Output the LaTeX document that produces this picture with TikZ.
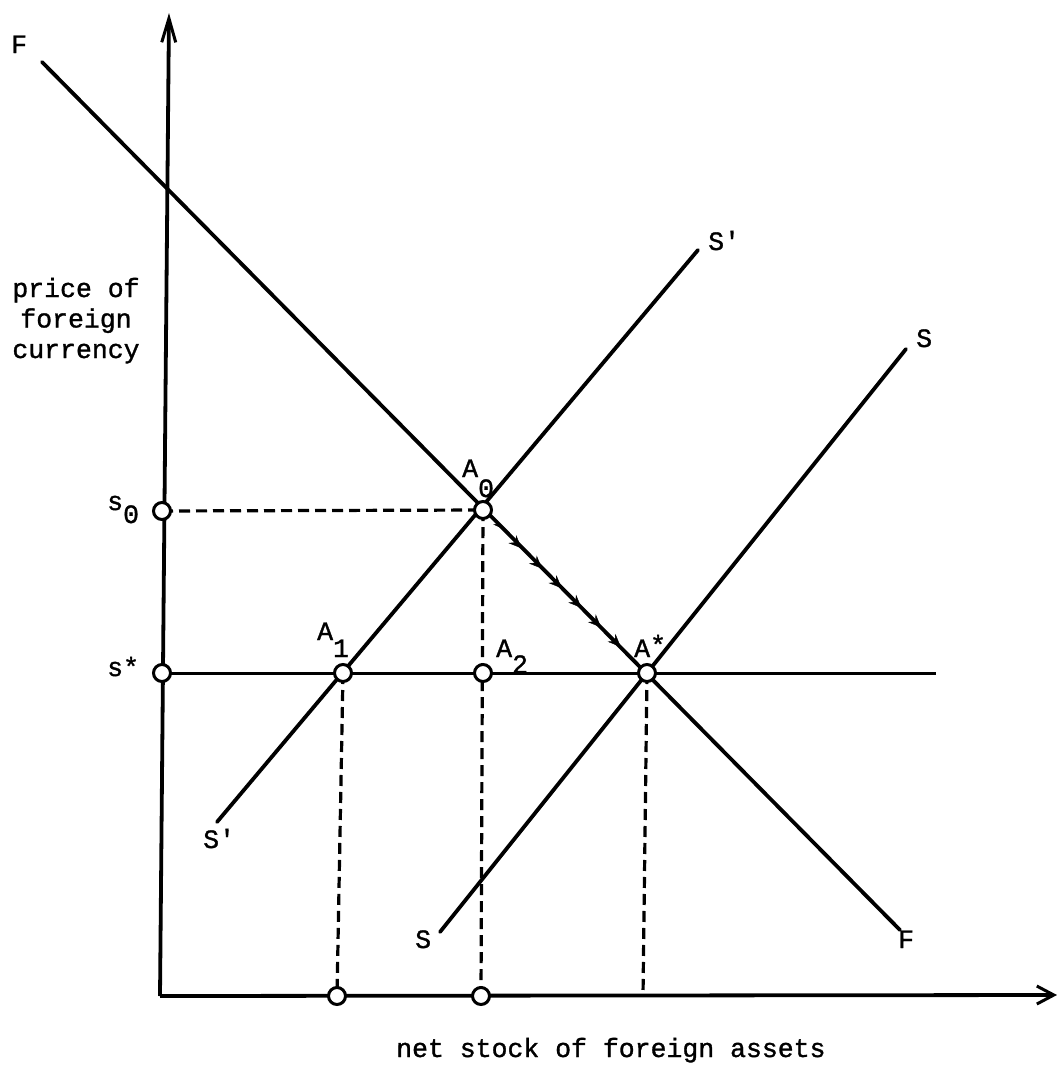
\documentclass[tikz,border=0pt]{standalone}
\usepackage{fontspec}
\newfontfamily\tw[FakeBold=1.2]{Liberation Mono}
\usetikzlibrary{arrows.meta,decorations.markings}
\begin{document}
\begin{tikzpicture}[x=1pt,y=-1pt,
  lab/.style={font=\fontsize{26.5}{30.5}\selectfont\tw, inner sep=0pt, anchor=base west},
  curve/.style={line width=3.8pt, line cap=round},
  axis/.style={line width=3.8pt},
  dsh/.style={line width=3.2pt, dash pattern=on 11pt off 6pt},
  pt/.style={circle, draw, fill=white, line width=3pt, minimum size=17pt, inner sep=0pt},
  headpath/.style={decoration={markings,
      mark=at position 0.11 with {\arrow{Stealth[length=8pt,width=6pt,inset=2.5pt]}},
      mark=at position 0.235 with {\arrow{Stealth[length=13pt,width=11pt,inset=4.5pt]}},
      mark=at position 0.36 with {\arrow{Stealth[length=13pt,width=11pt,inset=4.5pt]}},
      mark=at position 0.48 with {\arrow{Stealth[length=13pt,width=11pt,inset=4.5pt]}},
      mark=at position 0.60 with {\arrow{Stealth[length=13pt,width=11pt,inset=4.5pt]}},
      mark=at position 0.72 with {\arrow{Stealth[length=13pt,width=11pt,inset=4.5pt]}},
      mark=at position 0.84 with {\arrow{Stealth[length=13pt,width=11pt,inset=4.5pt]}}},
    postaction=decorate}]
\useasboundingbox (0,0) rectangle (1057,1068);

% positions
\coordinate (O) at (160,996);
\coordinate (Ytop) at (169,13);
\coordinate (Xend) at (1057,995);
\coordinate (F1) at (42,62);
\coordinate (F2) at (900,930);
\coordinate (Sp1) at (217,822);
\coordinate (Sp2) at (698,250);
\coordinate (S1) at (440,932);
\coordinate (S2) at (906,349);
\coordinate (Hend) at (936,673);
\coordinate (ps0) at (162,511);
\coordinate (pss) at (162,673);
\coordinate (pA1) at (343,673);
\coordinate (pA0) at (483,510);
\coordinate (pA2) at (483,673);
\coordinate (pAs) at (647,673);
\coordinate (pB1) at (337,996);
\coordinate (pB2) at (481,996);
\coordinate (pB3) at (643,996);

% axes
\draw[axis, -{Straight Barb[length=24pt,width=14pt,line width=3pt]}] (O) -- (Ytop);
\draw[axis, -{Straight Barb[length=17pt,width=18pt,line width=3pt]}] (O) -- (Xend);

% curves
\draw[curve] (F1) -- (F2);
\draw[curve] (Sp1) -- (Sp2);
\draw[curve] (S1) -- (S2);
\draw[line width=3pt] (pss) -- (Hend);

% dashed guides
\draw[dsh] (ps0) -- (pA0);
\draw[dsh] (pA0) -- (pB2);
\draw[dsh] (pA1) -- (pB1);
\draw[dsh] (pAs) -- (pB3);

% adjustment path
\path[headpath] (pA0) -- (pAs);

% points
\node[pt] (s0) at (ps0) {};
\node[pt] (ss) at (pss) {};
\node[pt] (A1) at (pA1) {};
\node[pt] (A0) at (pA0) {};
\node[pt] (A2) at (pA2) {};
\node[pt] (As) at (pAs) {};
\node[pt] (B1) at (pB1) {};
\node[pt] (B2) at (pB2) {};

% labels
\node[lab] (lF1) at (11,53) {F};
\node[lab] (lF2) at (898,948) {F};
\node[lab] (lS1) at (415,948) {S};
\node[lab] (lSp1) at (203,848) {S'};
\node[lab] (lS2) at (916,347) {S};
\node[lab] (lSp2) at (708,250) {S'};
\node[lab] (ls0) at (107,510) {s\raisebox{-13pt}{0}};
\node[lab] (lss) at (107,676) {s*};
\node[lab] (lA0) at (462,477) {A\raisebox{-20pt}{0}};
\node[lab] (lA1) at (317,640) {A\raisebox{-17pt}{1}};
\node[lab] (lA2) at (496,657) {A\raisebox{-16pt}{2}};
\node[lab] (lAs) at (634,657) {A\raisebox{3pt}{*}};
\node[lab, anchor=base, align=center] (ylab) at (76,358) {price of\\foreign\\currency};
\node[lab] (xlab) at (396,1057) {net stock of foreign assets};
\end{tikzpicture}
\end{document}
